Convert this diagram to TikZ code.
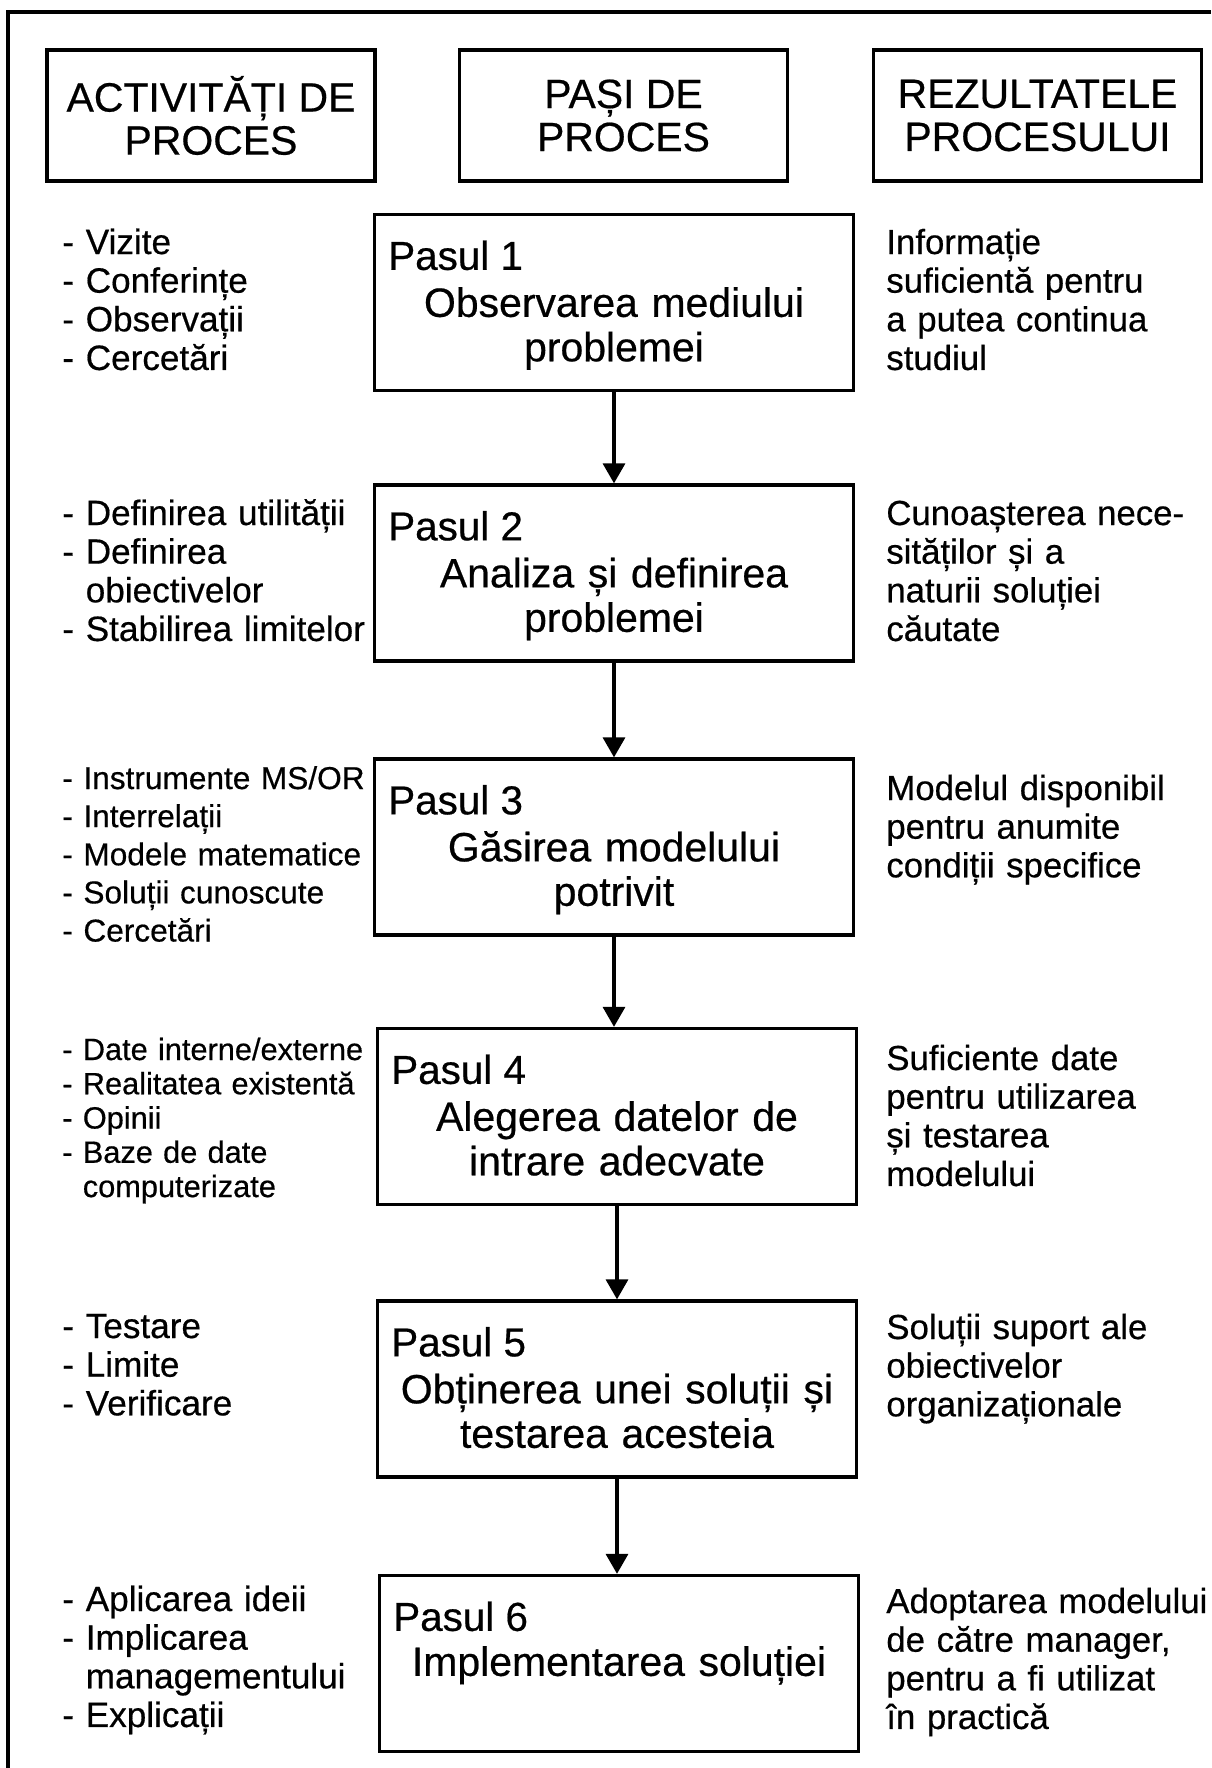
\documentclass[tikz,border=0pt]{standalone}
\usepackage{fontspec}
\setmainfont{Liberation Sans}[FakeBold=0.5]
\usetikzlibrary{arrows.meta,positioning}

\begin{document}
\begin{tikzpicture}[x=0.02cm, y=-0.02cm,
  headbox/.style={draw, line width=1.9pt, minimum width=6.56cm, minimum height=2.62cm, inner sep=0pt, align=center, font=\fontsize{23.3}{24.5}\selectfont},
  stepbox/.style={draw, line width=1.9pt, minimum width=9.58cm, minimum height=3.52cm, inner sep=0pt},
  steptitle/.style={anchor=base west, inner sep=0pt, font=\fontsize{23}{25}\selectfont},
  stepdesc/.style={anchor=base, inner sep=0pt, text width=9.4cm, align=center, font=\fontsize{23.3}{25.3}\selectfont},
  actlist/.style={anchor=base west, inner sep=0pt, text width=6.4cm, align=left, font=\fontsize{20}{22}\selectfont},
  reslist/.style={anchor=base west, inner sep=0pt, text width=6.5cm, align=left, font=\fontsize{19.8}{22}\selectfont},
  flow/.style={line width=1.9pt, -{Triangle[length=0.4cm, width=0.44cm]}}
]
\useasboundingbox (0,0) rectangle (1211,1768);
% outer frame
\draw[line width=1.9pt] (8,1768) -- (8,12) -- (1211,12);

% column heads
\node[headbox] (h1) at (211,115.5) {ACTIVITĂȚI DE\\PROCES};
\node[headbox] (h2) at (623.5,115.5) {PAȘI DE\\PROCES};
\node[headbox] (h3) at (1037.5,115.5) {REZULTATELE\\PROCESULUI};

% steps
\node[stepbox] (p1) at (614,302.5) {};
\node[steptitle] (p1t) at ([shift={(15,57)}]p1.north west) {Pasul 1};
\node[stepdesc] (p1d) at ([shift={(0,104)}]p1.north) {Observarea mediului\\problemei};

\node[stepbox] (p2) at (614,573) {};
\node[steptitle] (p2t) at ([shift={(15,57)}]p2.north west) {Pasul 2};
\node[stepdesc] (p2d) at ([shift={(0,104)}]p2.north) {Analiza și definirea\\problemei};

\node[stepbox] (p3) at (614,847) {};
\node[steptitle] (p3t) at ([shift={(15,57)}]p3.north west) {Pasul 3};
\node[stepdesc] (p3d) at ([shift={(0,104)}]p3.north) {Găsirea modelului\\potrivit};

\node[stepbox] (p4) at (617,1116.5) {};
\node[steptitle] (p4t) at ([shift={(15,57)}]p4.north west) {Pasul 4};
\node[stepdesc] (p4d) at ([shift={(0,104)}]p4.north) {Alegerea datelor de\\intrare adecvate};

\node[stepbox] (p5) at (617,1389) {};
\node[steptitle] (p5t) at ([shift={(15,57)}]p5.north west) {Pasul 5};
\node[stepdesc] (p5d) at ([shift={(0,104)}]p5.north) {Obținerea unei soluții și\\testarea acesteia};

\node[stepbox] (p6) at (619,1663.5) {};
\node[steptitle] (p6t) at ([shift={(15,57)}]p6.north west) {Pasul 6};
\node[stepdesc] (p6d) at ([shift={(0,102)}]p6.north) {Implementarea soluției};

\draw[flow] (p1.south) -- (p1.south |- p2.north);
\draw[flow] (p2.south) -- (p2.south |- p3.north);
\draw[flow] (p3.south) -- (p3.south |- p4.north);
\draw[flow] (p4.south) -- (p4.south |- p5.north);
\draw[flow] (p5.south) -- (p5.south |- p6.north);

% activities
\node[actlist] (a1) at (62,254) {- Vizite\\- Conferințe\\- Observații\\- Cercetări};
\node[actlist] (a2) at (62,525) {- Definirea utilității\\- Definirea\\\phantom{- }obiectivelor\\- Stabilirea limitelor};
\node[actlist, font=\fontsize{18}{21.7}\selectfont] (a3) at (62,789) {- Instrumente MS/OR\\- Interrelații\\- Modele matematice\\- Soluții cunoscute\\- Cercetări};
\node[actlist, font=\fontsize{17.5}{19.5}\selectfont] (a4) at (62,1060) {- Date interne/externe\\- Realitatea existentă\\- Opinii\\- Baze de date\\\phantom{- }computerizate};
\node[actlist] (a5) at (62,1338) {- Testare\\- Limite\\- Verificare};
\node[actlist] (a6) at (62,1611) {- Aplicarea ideii\\- Implicarea\\\phantom{- }managementului\\- Explicații};

% results
\node[reslist] (r1) at (886,254) {Informație\\suficientă pentru\\a putea continua\\studiul};
\node[reslist] (r2) at (886,525) {Cunoașterea nece-\\sităților și a\\naturii soluției\\căutate};
\node[reslist] (r3) at (886,800) {Modelul disponibil\\pentru anumite\\condiții specifice};
\node[reslist] (r4) at (886,1070) {Suficiente date\\pentru utilizarea\\și testarea\\modelului};
\node[reslist] (r5) at (886,1339) {Soluții suport ale\\obiectivelor\\organizaționale};
\node[reslist] (r6) at (886,1613) {Adoptarea modelului\\de către manager,\\pentru a fi utilizat\\în practică};
\end{tikzpicture}
\end{document}
